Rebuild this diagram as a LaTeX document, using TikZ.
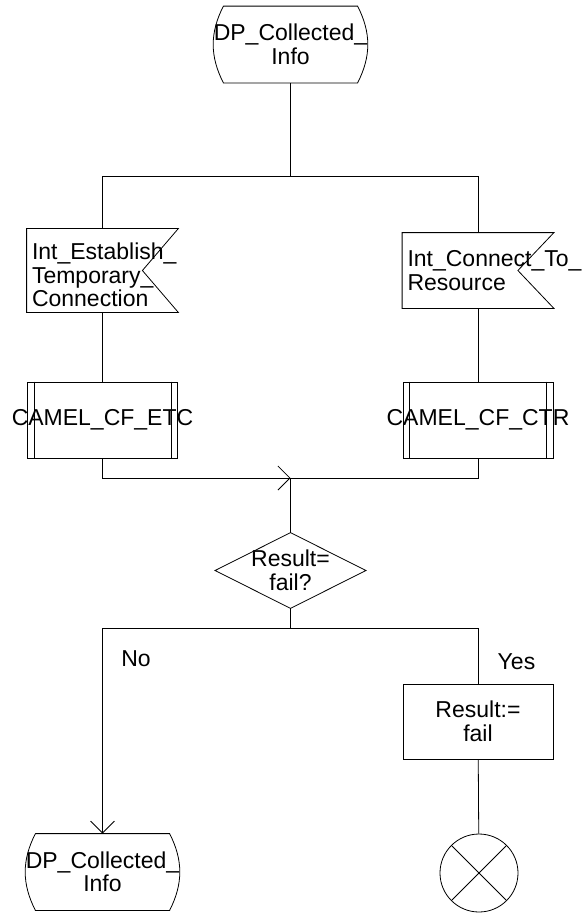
\documentclass[tikz,border=0pt]{standalone}
\usepackage{fontspec}
\setmainfont{Liberation Sans}
\usetikzlibrary{arrows.meta}
\begin{document}
\begin{tikzpicture}[x=1pt,y=-1pt,line width=0.8pt,
 font=\fontsize{23}{23.5}\selectfont,
 box/.style={minimum width=152pt,minimum height=76pt,inner sep=5pt,align=center},
 sigbox/.style={box,minimum width=151pt,minimum height=75pt,align=left,text width=141pt},
 procbox/.style={box,draw,minimum width=150pt},
 barb/.style={-{Straight Barb[length=12pt,width=24pt]}}]
 \useasboundingbox (0,0) rectangle (585,914);
 % start and end states
 \node[box,inner xsep=0pt] (dpTop) at (290.5,44.5) {DP\_Collected\_\\Info};
 \node[box,inner xsep=0pt] (dpEnd) at (102.5,872) {DP\_Collected\_\\Info};
 \foreach \t in {dpTop,dpEnd}
  \draw ([xshift=10pt]\t.north west) -- ([xshift=-10pt]\t.north east)
   to[bend left=27] ([xshift=-10pt]\t.south east) -- ([xshift=10pt]\t.south west)
   to[bend left=27] ([xshift=10pt]\t.north west);
 % input signals
 \node[sigbox] (intETC) at (102.5,270.5) {\rule{0pt}{26pt}Int\_Establish\_\\Temporary\_\\Connection};
 \node[sigbox] (intCTR) at (478,270.5) {Int\_Connect\_To\_\\Resource};
 \foreach \s in {intETC,intCTR}
  \draw (\s.north west) -- (\s.north east) -- ([xshift=-36pt]\s.east)
   -- (\s.south east) -- (\s.south west) -- cycle;
 % procedure calls
 \node[procbox] (etc) at (102.5,420) {\makebox[0pt]{CAMEL\_CF\_ETC}};
 \node[procbox] (ctr) at (478,420) {\makebox[0pt]{CAMEL\_CF\_CTR}};
 \foreach \p in {etc,ctr}
  \draw ([xshift=7pt]\p.north west) -- ([xshift=7pt]\p.south west)
   ([xshift=-7pt]\p.north east) -- ([xshift=-7pt]\p.south east);
 % decision
 \node[box,minimum width=150pt,minimum height=75pt] (test) at (290.5,570.5) {Result=\\fail?};
 \draw (test.north) -- (test.east) -- (test.south) -- (test.west) -- cycle;
 \node (no) at (136,658.5) {No};
 \node (yes) at (516.5,662) {Yes};
 % task and stop
 \node[box,draw,minimum width=150pt,minimum height=75pt] (res) at (478,721.5) {Result:=\\fail};
 \node[circle,draw,minimum size=78pt,inner sep=0pt] (stop) at (479,873) {};
 \draw (stop.north west) -- (stop.south east) (stop.north east) -- (stop.south west);
 % connections
 \coordinate (fork) at (290.5,176);
 \coordinate (join) at (290.5,478);
 \coordinate (split) at (290.5,628);
 \draw (dpTop) -- (fork);
 \draw (fork) -| (intETC.north);
 \draw (fork) -| (intCTR.north);
 \draw (intETC) -- (etc);
 \draw (intCTR) -- (ctr);
 \draw[barb] (etc.south) |- (join);
 \draw (ctr.south) |- (join);
 \draw (join) -- (test.north);
 \draw (test.south) -- (split);
 \draw[barb] (split) -| (dpEnd.north);
 \draw (split) -| (res.north);
 \draw (res) -- (stop);
\end{tikzpicture}
\end{document}
